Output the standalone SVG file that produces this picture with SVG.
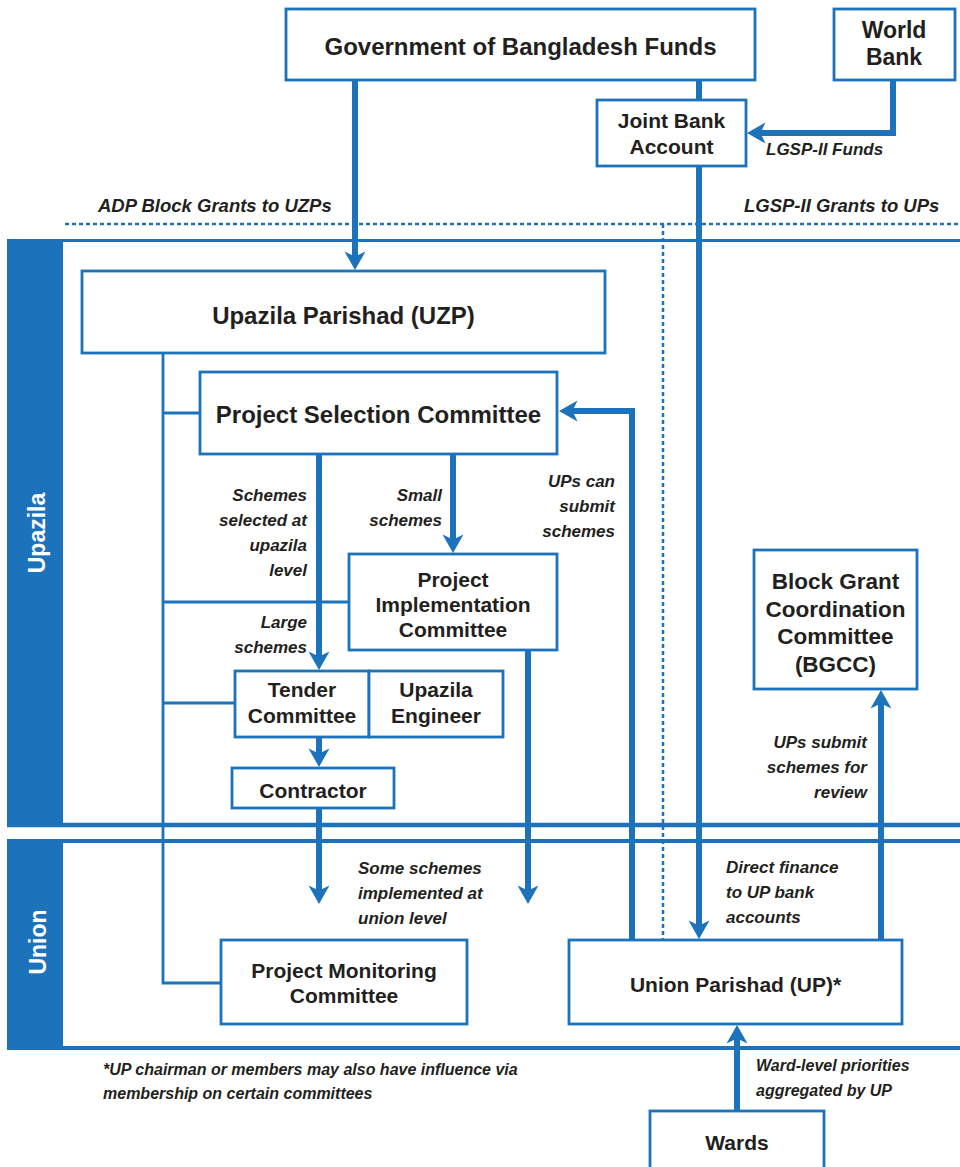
<svg xmlns="http://www.w3.org/2000/svg" width="960" height="1167" viewBox="0 0 960 1167">
  <style>
    .box { fill: #ffffff; stroke: #1d72bc; stroke-width: 2.8; }
    .band { fill: #1d72bc; }
    .rule { stroke: #1d72bc; fill: none; }
    .flow { stroke: #1d72bc; stroke-width: 6; fill: none; }
    .link { stroke: #1d72bc; stroke-width: 2.8; fill: none; }
    .dots { stroke: #1d72bc; stroke-width: 2.5; fill: none; stroke-dasharray: 4 3; }
    text { font-family: "Liberation Sans", Arial, Helvetica, sans-serif; font-weight: bold; fill: #231f20; }
    .n24 { font-size: 24px; text-anchor: middle; }
    .n23 { font-size: 23px; text-anchor: middle; }
    .n22 { font-size: 22.5px; text-anchor: middle; }
    .n21 { font-size: 21px; text-anchor: middle; }
    .lbl { font-size: 17px; font-style: italic; }
    .hdr { font-size: 18.5px; font-style: italic; }
    .note { font-size: 16px; font-style: italic; }
    .end { text-anchor: end; }
    .tier { fill: #ffffff; font-size: 23px; text-anchor: middle; }
  </style>
  <defs>
    <marker id="head" markerUnits="userSpaceOnUse" markerWidth="24" markerHeight="24" viewBox="0 -12 20 24" refX="5.5" refY="0" orient="auto">
      <path d="M0,-10.5 L18.5,0 L0,10.5 L5,0 Z" fill="#1d72bc"/>
    </marker>
  </defs>

  <!-- tier bands -->
  <g id="tiers">
    <rect class="band" x="7" y="239" width="56" height="588"/>
    <rect class="band" x="7" y="839" width="56" height="211"/>
    <path class="rule" stroke-width="3" d="M7,240.5 H960"/>
    <path class="rule" stroke-width="4.5" d="M7,825 H960"/>
    <path class="rule" stroke-width="4" d="M7,841 H960"/>
    <path class="rule" stroke-width="4" d="M7,1048 H960"/>
    <text class="tier" transform="translate(45,533) rotate(-90)">Upazila</text>
    <text class="tier" transform="translate(45.5,942) rotate(-90)">Union</text>
  </g>

  <!-- connectors -->
  <g id="connectors">
    <path class="dots" d="M65,224 H960"/>
    <path class="dots" stroke-dasharray="3.5 3.5" d="M663,224 V940"/>

    <path class="link" d="M163,353 V983 H221"/>
    <path class="link" d="M163,413 H200"/>
    <path class="link" d="M163,602 H349"/>
    <path class="link" d="M163,703 H235"/>

    <path class="flow" d="M355,80 V257" marker-end="url(#head)"/>
    <path class="flow" d="M699,80 V100"/>
    <path class="flow" d="M893,80 V133 H760" marker-end="url(#head)"/>
    <path class="flow" d="M699,166 V926" marker-end="url(#head)"/>
    <path class="flow" d="M632,940 V411 H572" marker-end="url(#head)"/>
    <path class="flow" d="M453,454 V540" marker-end="url(#head)"/>
    <path class="flow" d="M319,454 V657" marker-end="url(#head)"/>
    <path class="flow" d="M319,737 V754" marker-end="url(#head)"/>
    <path class="flow" d="M319,808 V891" marker-end="url(#head)"/>
    <path class="flow" d="M528,650 V891" marker-end="url(#head)"/>
    <path class="flow" d="M881,940 V703" marker-end="url(#head)"/>
    <path class="flow" d="M737,1111 V1038" marker-end="url(#head)"/>

    <text class="hdr" x="98" y="212">ADP Block Grants to UZPs</text>
    <text class="hdr" x="744" y="212">LGSP-II Grants to UPs</text>
    <text class="lbl" x="766" y="155">LGSP-II Funds</text>
    <text class="lbl end" x="307" y="501">Schemes</text>
    <text class="lbl end" x="307" y="526">selected at</text>
    <text class="lbl end" x="307" y="551">upazila</text>
    <text class="lbl end" x="307" y="576">level</text>
    <text class="lbl end" x="442" y="501">Small</text>
    <text class="lbl end" x="442" y="526">schemes</text>
    <text class="lbl end" x="307" y="628">Large</text>
    <text class="lbl end" x="307" y="653">schemes</text>
    <text class="lbl end" x="615" y="487">UPs can</text>
    <text class="lbl end" x="615" y="512">submit</text>
    <text class="lbl end" x="615" y="537">schemes</text>
    <text class="lbl end" x="867" y="748">UPs submit</text>
    <text class="lbl end" x="867" y="773">schemes for</text>
    <text class="lbl end" x="867" y="798">review</text>
    <text class="lbl" x="358" y="874">Some schemes</text>
    <text class="lbl" x="358" y="899">implemented at</text>
    <text class="lbl" x="358" y="924">union level</text>
    <text class="lbl" x="726" y="873">Direct finance</text>
    <text class="lbl" x="726" y="898">to UP bank</text>
    <text class="lbl" x="726" y="923">accounts</text>
    <text class="note" x="756" y="1071">Ward-level priorities</text>
    <text class="note" x="756" y="1096">aggregated by UP</text>
  </g>

  <!-- nodes -->
  <g id="gob-funds">
    <rect class="box" x="286" y="9" width="469" height="71"/>
    <text class="n24" x="520.5" y="55">Government of Bangladesh Funds</text>
  </g>
  <g id="world-bank">
    <rect class="box" x="834" y="9" width="121" height="71"/>
    <text class="n23" x="894" y="38">World</text>
    <text class="n23" x="894" y="65">Bank</text>
  </g>
  <g id="joint-bank-account">
    <rect class="box" x="597" y="100" width="149" height="66"/>
    <text class="n21" x="671.5" y="128">Joint Bank</text>
    <text class="n21" x="671.5" y="154">Account</text>
  </g>
  <g id="uzp">
    <rect class="box" x="82" y="271" width="523" height="82"/>
    <text class="n24" x="343.5" y="324">Upazila Parishad (UZP)</text>
  </g>
  <g id="psc">
    <rect class="box" x="200" y="372" width="357" height="82"/>
    <text class="n24" x="378.5" y="423">Project Selection Committee</text>
  </g>
  <g id="pic">
    <rect class="box" x="349" y="554" width="208" height="96"/>
    <text class="n21" x="453" y="587">Project</text>
    <text class="n21" x="453" y="612">Implementation</text>
    <text class="n21" x="453" y="637">Committee</text>
  </g>
  <g id="tender-committee">
    <rect class="box" x="235" y="671" width="134" height="66"/>
    <text class="n21" x="302" y="697">Tender</text>
    <text class="n21" x="302" y="723">Committee</text>
  </g>
  <g id="upazila-engineer">
    <rect class="box" x="369" y="671" width="134" height="66"/>
    <text class="n21" x="436" y="697">Upazila</text>
    <text class="n21" x="436" y="723">Engineer</text>
  </g>
  <g id="contractor">
    <rect class="box" x="232" y="768" width="162" height="40"/>
    <text class="n21" x="313" y="798">Contractor</text>
  </g>
  <g id="pmc">
    <rect class="box" x="221" y="940" width="246" height="84"/>
    <text class="n21" x="344" y="978">Project Monitoring</text>
    <text class="n21" x="344" y="1003">Committee</text>
  </g>
  <g id="bgcc">
    <rect class="box" x="754" y="550" width="163" height="139"/>
    <text class="n22" x="835.5" y="589">Block Grant</text>
    <text class="n22" x="835.5" y="617">Coordination</text>
    <text class="n22" x="835.5" y="644">Committee</text>
    <text class="n22" x="835.5" y="672">(BGCC)</text>
  </g>
  <g id="up">
    <rect class="box" x="569" y="940" width="333" height="84"/>
    <text class="n21" x="735.5" y="992">Union Parishad (UP)*</text>
  </g>
  <g id="wards">
    <rect class="box" x="650" y="1111" width="174" height="70"/>
    <text class="n21" x="737" y="1150">Wards</text>
  </g>

  <g id="footnote">
    <text class="note" x="103" y="1075">*UP chairman or members may also have influence via</text>
    <text class="note" x="103" y="1099">membership on certain committees</text>
  </g>
</svg>
